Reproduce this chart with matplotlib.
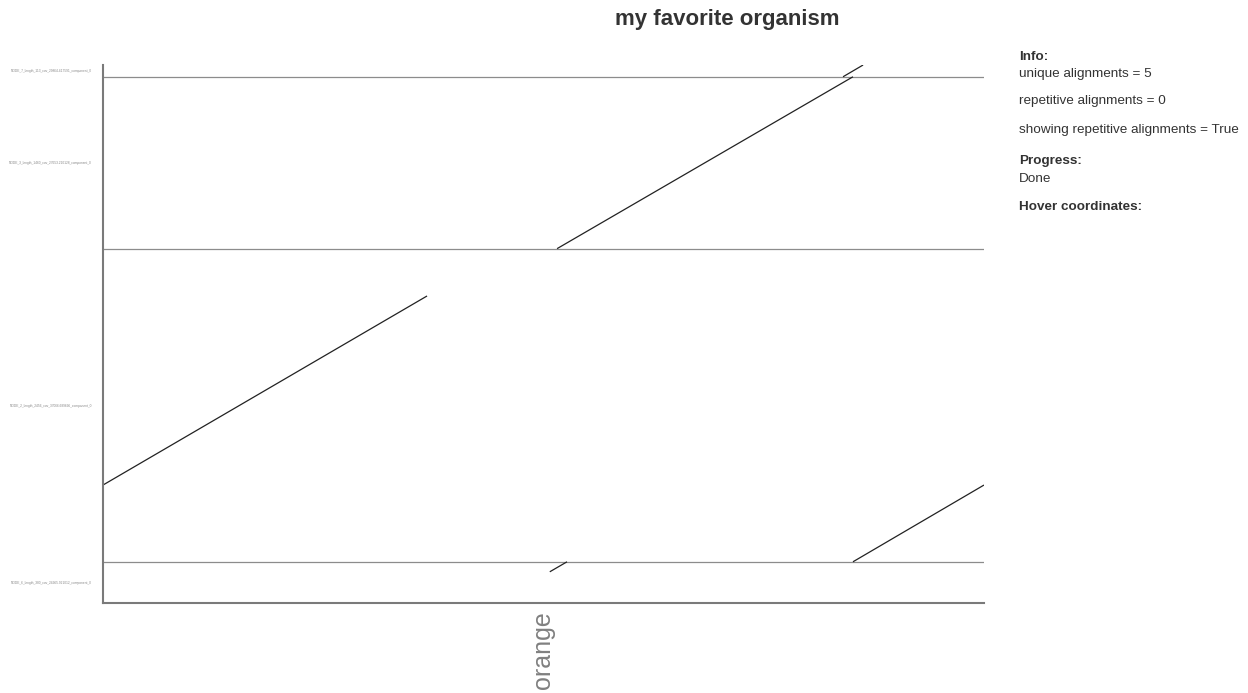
import matplotlib

matplotlib.use("Agg")
import matplotlib.pyplot as plt
import numpy as np

plt.rcParams["font.family"] = ["Liberation Sans", "DejaVu Sans"]

# reference (x axis) and query contigs (y axis, bottom to top)
REF_NAMES = ["orange"]
REF_LENGTHS = [4350]
QUERY_NAMES = [
    "NODE_6_length_380_cov_24965.921012_component_0",
    "NODE_2_length_2456_cov_37066.689696_component_0",
    "NODE_3_length_1460_cov_27653.210128_component_0",
    "NODE_7_length_113_cov_29864.417591_component_0",
]
QUERY_LENGTHS = [350, 2660, 1460, 100]

# alignments as (ref_start, ref_end, query_start, query_end) in cumulative coords
ALIGN_REF_START = [0, 2242, 3654, 2206, 3703]
ALIGN_REF_END = [1600, 3703, 3753, 2291, 4350]
ALIGN_Q_START = [1002, 3010, 4470, 265, 350]
ALIGN_Q_END = [2608, 4470, 4570, 350, 1002]

INFO_LINES = [
    ("Info:", True),
    ("unique alignments = 5", False),
    ("repetitive alignments = 0", False),
    ("showing repetitive alignments = True", False),
    ("Progress:", True),
    ("Done", False),
    ("Hover coordinates:", True),
]
INFO_Y_PX = [57, 74, 101, 130, 161, 179, 207]


def main():
    fig = plt.figure(figsize=(12.48, 6.93), dpi=100)
    ax = fig.add_axes([103 / 1248, 1 - 603 / 693, 881 / 1248, 538 / 693])

    ref_total = sum(REF_LENGTHS)
    q_bounds = np.concatenate([[0], np.cumsum(QUERY_LENGTHS)])
    q_total = q_bounds[-1]

    for b in q_bounds[1:-1]:
        ax.axhline(b, color="#8c8c8c", linewidth=0.9)

    for xs, xe, ys, ye in zip(ALIGN_REF_START, ALIGN_REF_END, ALIGN_Q_START, ALIGN_Q_END):
        ax.plot([xs, xe], [ys, ye], color="#222222", linewidth=0.9, solid_capstyle="butt")

    ax.set_xlim(0, ref_total)
    ax.set_ylim(0, q_total)

    ref_bounds = np.concatenate([[0], np.cumsum(REF_LENGTHS)])
    ax.set_xticks((ref_bounds[:-1] + ref_bounds[1:]) / 2)
    ax.set_xticklabels(REF_NAMES, rotation=90, fontsize=18, color="#808080")
    ax.set_yticks((q_bounds[:-1] + q_bounds[1:]) / 2)
    ax.set_yticklabels(QUERY_NAMES, fontsize=2.3, color="#888888")
    ax.tick_params(axis="both", length=0)
    ax.tick_params(axis="x", pad=6)
    ax.tick_params(axis="y", pad=8)

    for side in ("top", "right"):
        ax.spines[side].set_visible(False)
    for side in ("left", "bottom"):
        ax.spines[side].set_color("#7a7a7a")
        ax.spines[side].set_linewidth(1.5)

    fig.text(727 / 1248, 1 - 20 / 693, "my favorite organism", ha="center", va="center",
             fontsize=16, fontweight="bold", color="#333333")

    for (text, bold), ypx in zip(INFO_LINES, INFO_Y_PX):
        fig.text(1019 / 1248, 1 - ypx / 693, text, ha="left", va="center",
                 fontsize=9.7, fontweight="bold" if bold else "normal", color="#333333")

    fig.savefig("out.png", dpi=100)
    plt.close(fig)


if __name__ == "__main__":
    main()
